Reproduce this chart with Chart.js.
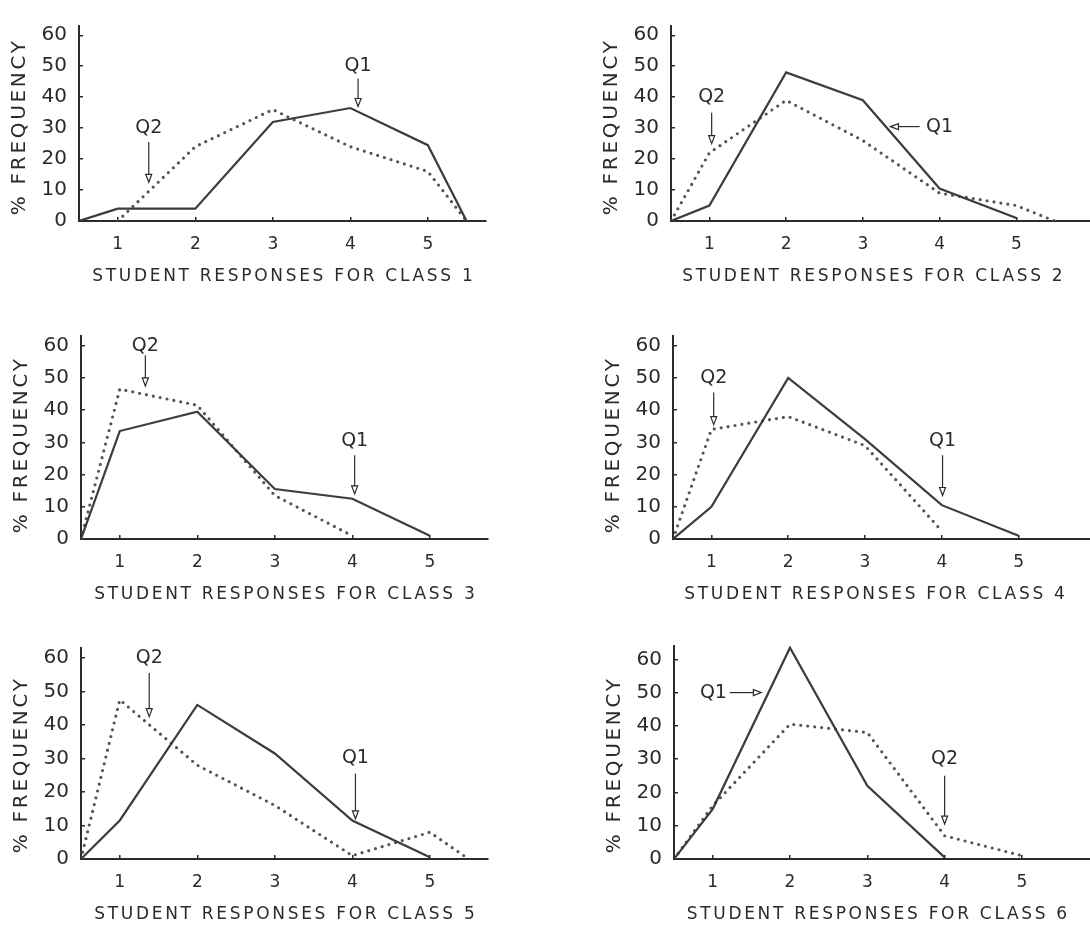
<!DOCTYPE html>
<html>
<head>
<meta charset="utf-8">
<script src="https://cdn.jsdelivr.net/npm/chart.js@4.4.1/dist/chart.umd.min.js"></script>
<style>
  html, body { margin: 0; padding: 0; background: #fff; overflow: hidden; }
  body { width: 1090px; height: 927px; position: relative; }
  canvas { position: absolute; }
</style>
</head>
<body>
<canvas id="c1" width="545" height="310" style="left:0;top:0"></canvas>
<canvas id="c2" width="545" height="310" style="left:545px;top:0"></canvas>
<canvas id="c3" width="545" height="310" style="left:0;top:310px"></canvas>
<canvas id="c4" width="545" height="310" style="left:545px;top:310px"></canvas>
<canvas id="c5" width="545" height="310" style="left:0;top:620px"></canvas>
<canvas id="c6" width="545" height="310" style="left:545px;top:620px"></canvas>
<script>
// x positions of the plotted points (response scale, with half-steps at both ends)
const responses = [0.5, 1, 2, 3, 4, 5, 5.5];
const xTicks = [1, 2, 3, 4, 5];
const yTicks = [0, 10, 20, 30, 40, 50, 60];
const classNames = ['CLASS 1', 'CLASS 2', 'CLASS 3', 'CLASS 4', 'CLASS 5', 'CLASS 6'];

// % frequency, Q1 (solid) and Q2 (dotted)
const q1Class1 = [0, 4, 4, 32, 36.5, 24.5, 0];
const q2Class1 = [null, 0, 24, 36, 24, 16, 0];
const q1Class2 = [0, 5, 48, 39, 10.5, 1, null];
const q2Class2 = [0, 22, 39, 26, 9, 5, 0];
const q1Class3 = [0, 33.5, 39.5, 15.5, 12.5, 1, null];
const q2Class3 = [0, 46.5, 41.5, 13.5, 1, null, null];
const q1Class4 = [0, 10, 50, 31, 10.5, 1, null];
const q2Class4 = [0, 34, 38, 29, 2.5, null, null];
const q1Class5 = [0, 11.5, 46, 31.5, 11.5, 0.5, null];
const q2Class5 = [0, 47.5, 28, 16, 1, 8, 0];
const q1Class6 = [0, 15, 63.5, 22, 0.5, null, null];
const q2Class6 = [0, 16, 40.5, 38, 7, 1, null];

// labelled arrows (data units): label centre, arrow tail, arrow tip
const notesClass1 = [
    { text: 'Q2', at: [1.4, 30], from: [1.4, 25.5], to: [1.4, 12.5] },
    { text: 'Q1', at: [4.1, 50], from: [4.1, 46], to: [4.1, 37] }
];
const notesClass2 = [
    { text: 'Q2', at: [1.03, 40], from: [1.03, 35], to: [1.03, 25] },
    { text: 'Q1', at: [4.0, 30.5], from: [3.74, 30.5], to: [3.36, 30.5] }
];
const notesClass3 = [
    { text: 'Q2', at: [1.33, 60], from: [1.33, 57], to: [1.33, 47.5] },
    { text: 'Q1', at: [4.03, 30.5], from: [4.03, 26], to: [4.03, 14] }
];
const notesClass4 = [
    { text: 'Q2', at: [1.03, 50], from: [1.03, 45.5], to: [1.03, 35.5] },
    { text: 'Q1', at: [4.01, 30.5], from: [4.01, 26], to: [4.01, 13.5] }
];
const notesClass5 = [
    { text: 'Q2', at: [1.38, 60], from: [1.38, 55.5], to: [1.38, 42.5] },
    { text: 'Q1', at: [4.04, 30], from: [4.04, 25.5], to: [4.04, 12] }
];
const notesClass6 = [
    { text: 'Q1', at: [1.01, 50], from: [1.22, 50], to: [1.63, 50] },
    { text: 'Q2', at: [4.0, 30], from: [4.0, 25], to: [4.0, 10.5] }
];

const ink = '#2b2b2b';
const fontFamily = '"DejaVu Sans", sans-serif';
const pxPerUnitY = 3.35;

const panels = [
    { id: 'c1', q1: q1Class1, q2: q2Class1, notes: notesClass1, left: 79, right: 486, bottom: 221, xMax: 5.75, yMax: 63 },
    { id: 'c2', q1: q1Class2, q2: q2Class2, notes: notesClass2, left: 126, right: 545, bottom: 221, xMax: 5.96, yMax: 63 },
    { id: 'c3', q1: q1Class3, q2: q2Class3, notes: notesClass3, left: 81, right: 488, bottom: 229, xMax: 5.75, yMax: 63 },
    { id: 'c4', q1: q1Class4, q2: q2Class4, notes: notesClass4, left: 128, right: 545, bottom: 229, xMax: 5.93, yMax: 63 },
    { id: 'c5', q1: q1Class5, q2: q2Class5, notes: notesClass5, left: 81, right: 488, bottom: 239, xMax: 5.75, yMax: 63 },
    { id: 'c6', q1: q1Class6, q2: q2Class6, notes: notesClass6, left: 129, right: 545, bottom: 239, xMax: 5.88, yMax: 64 }
];

// Draws the axis titles (with letter spacing) and the Q1/Q2 arrows
const notesPlugin = {
    id: 'notes',
    afterDatasetsDraw(chart, args, opts) {
        const { ctx, chartArea } = chart;
        const xs = chart.scales.x, ys = chart.scales.y;
        ctx.save();
        ctx.fillStyle = ink;
        ctx.strokeStyle = ink;
        ctx.textAlign = 'center';
        ctx.textBaseline = 'middle';

        // x title, centred over the 0.5 - 5.75 span
        ctx.font = '17px ' + fontFamily;
        ctx.letterSpacing = '2.7px';
        ctx.fillText(opts.xTitle, xs.getPixelForValue(3.125) + 1.3, chartArea.bottom + 56);

        // y title
        ctx.save();
        ctx.font = '20px ' + fontFamily;
        ctx.letterSpacing = '2.7px';
        ctx.translate(chartArea.left - 59, chartArea.bottom - 93);
        ctx.rotate(-Math.PI / 2);
        ctx.fillText('% FREQUENCY', 1.3, 0);
        ctx.restore();

        ctx.letterSpacing = '0px';
        ctx.font = '19px ' + fontFamily;
        ctx.lineWidth = 1.2;
        opts.items.forEach(note => {
            ctx.fillText(note.text, xs.getPixelForValue(note.at[0]), ys.getPixelForValue(note.at[1]));
            const x1 = xs.getPixelForValue(note.from[0]), y1 = ys.getPixelForValue(note.from[1]);
            const x2 = xs.getPixelForValue(note.to[0]), y2 = ys.getPixelForValue(note.to[1]);
            const ang = Math.atan2(y2 - y1, x2 - x1);
            const len = 8, half = 3;
            const bx = x2 - len * Math.cos(ang), by = y2 - len * Math.sin(ang);
            ctx.beginPath();
            ctx.moveTo(x1, y1);
            ctx.lineTo(bx, by);
            ctx.stroke();
            ctx.beginPath();
            ctx.moveTo(x2, y2);
            ctx.lineTo(bx + half * Math.sin(ang), by - half * Math.cos(ang));
            ctx.lineTo(bx - half * Math.sin(ang), by + half * Math.cos(ang));
            ctx.closePath();
            ctx.stroke();
        });
        ctx.restore();
    }
};

panels.forEach((p, i) => {
    const canvas = document.getElementById(p.id);
    const height = canvas.height;
    const top = p.bottom - p.yMax * pxPerUnitY;

    new Chart(canvas, {
        type: 'line',
        data: {
            labels: responses,
            datasets: [
                {
                    label: 'Q1',
                    data: responses.map((r, k) => ({ x: r, y: p.q1[k] })),
                    borderColor: '#3c3c3c',
                    borderWidth: 2.2,
                    pointRadius: 0,
                    tension: 0,
                    spanGaps: false
                },
                {
                    label: 'Q2',
                    data: responses.map((r, k) => ({ x: r, y: p.q2[k] })),
                    borderColor: '#555',
                    borderWidth: 3.2,
                    borderDash: [0, 7],
                    borderCapStyle: 'round',
                    pointRadius: 0,
                    tension: 0,
                    spanGaps: false
                }
            ]
        },
        options: {
            responsive: false,
            animation: false,
            events: [],
            layout: {
                padding: { left: 0, top: top, right: canvas.width - p.right, bottom: 0 }
            },
            plugins: {
                legend: { display: false },
                tooltip: { enabled: false },
                notes: {
                    xTitle: 'STUDENT RESPONSES FOR ' + classNames[i],
                    items: p.notes
                }
            },
            scales: {
                x: {
                    type: 'linear',
                    min: 0.5,
                    max: p.xMax,
                    afterBuildTicks: s => { s.ticks = xTicks.map(v => ({ value: v })); },
                    afterFit: s => { s.height = height - p.bottom; },
                    border: { display: true, color: ink, width: 2 },
                    grid: { display: true, drawOnChartArea: false, drawTicks: true, tickLength: -4, color: ink, lineWidth: 1.5 },
                    ticks: { color: ink, padding: 17, font: { family: fontFamily, size: 17 }, maxRotation: 0 }
                },
                y: {
                    type: 'linear',
                    min: 0,
                    max: p.yMax,
                    afterBuildTicks: s => { s.ticks = yTicks.map(v => ({ value: v })); },
                    afterFit: s => { s.width = p.left; },
                    border: { display: true, color: ink, width: 2 },
                    grid: { display: true, drawOnChartArea: false, drawTicks: true, tickLength: -4, color: ink, lineWidth: 1.5 },
                    ticks: { color: ink, padding: 16, font: { family: fontFamily, size: 20, lineHeight: 1 } }
                }
            }
        },
        plugins: [notesPlugin]
    });
});
</script>
</body>
</html>
